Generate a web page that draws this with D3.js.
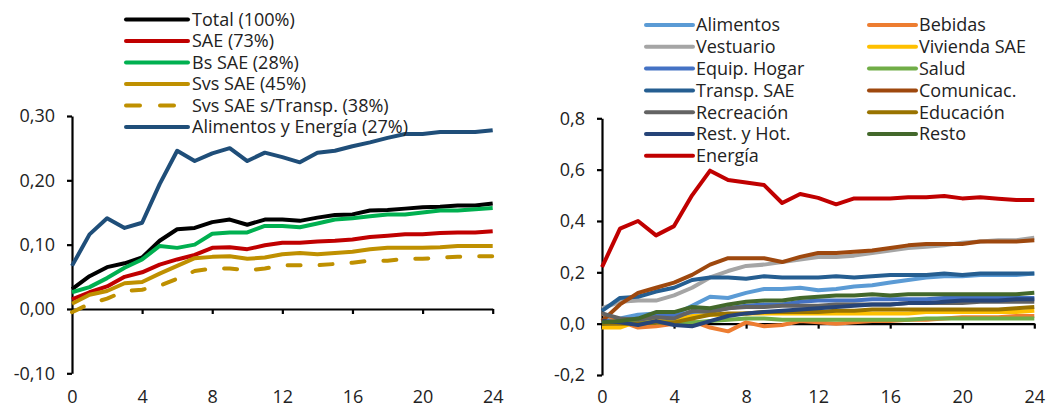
<!DOCTYPE html>
<html><head><meta charset="utf-8">
<script src="https://cdn.jsdelivr.net/npm/d3@7"></script>
<style>
body{margin:0;background:#fff;}
svg text{font-family:"Open Sans",sans-serif;fill:#222;}
</style></head>
<body><svg id="c" width="1061" height="406"></svg>
<script>
const months = d3.range(0,25);
const xTicks = [0,4,8,12,16,20,24];
const leftYTicks = [-0.1,0,0.1,0.2,0.3];
const rightYTicks = [-0.2,0,0.2,0.4,0.6,0.8];

// Left chart series
const leftNames = ["Total (100%)","SAE (73%)","Bs SAE (28%)","Svs SAE (45%)","Svs SAE s/Transp. (38%)","Alimentos y Energía (27%)"];
const leftColors = ["#000000","#C00000","#00B050","#BF9000","#BF9000","#1F4E79"];
const leftDashed = [false,false,false,false,true,false];
const total = [0.031,0.051,0.065,0.071,0.080,0.106,0.124,0.126,0.135,0.139,0.131,0.139,0.139,0.137,0.142,0.146,0.147,0.153,0.154,0.156,0.158,0.159,0.161,0.161,0.164];
const sae = [0.015,0.026,0.035,0.050,0.057,0.069,0.077,0.084,0.095,0.096,0.093,0.099,0.103,0.103,0.105,0.106,0.108,0.112,0.114,0.116,0.116,0.118,0.119,0.119,0.121];
const bsSae = [0.026,0.034,0.048,0.064,0.077,0.098,0.095,0.100,0.117,0.119,0.119,0.129,0.129,0.127,0.133,0.139,0.141,0.144,0.147,0.147,0.150,0.153,0.153,0.155,0.157];
const svsSae = [0.008,0.022,0.028,0.040,0.042,0.055,0.067,0.079,0.081,0.082,0.078,0.080,0.085,0.087,0.085,0.087,0.089,0.093,0.095,0.095,0.095,0.096,0.098,0.098,0.098];
const svsSaeSinTransp = [-0.005,0.008,0.016,0.028,0.030,0.036,0.047,0.059,0.063,0.063,0.060,0.063,0.068,0.068,0.068,0.070,0.072,0.075,0.075,0.078,0.078,0.080,0.081,0.082,0.082];
const alimEnergia = [0.067,0.116,0.141,0.126,0.134,0.194,0.246,0.230,0.242,0.250,0.230,0.243,0.236,0.228,0.243,0.246,0.253,0.259,0.266,0.272,0.272,0.275,0.275,0.275,0.278];
const leftValues = [total,sae,bsSae,svsSae,svsSaeSinTransp,alimEnergia];

// Right chart series
const rightNames = ["Alimentos","Bebidas","Vestuario","Vivienda SAE","Equip. Hogar","Salud","Transp. SAE","Comunicac.","Recreación","Educación","Rest. y Hot.","Resto","Energía"];
const rightColors = ["#5B9BD5","#ED7D31","#A5A5A5","#FFC000","#4472C4","#70AD47","#255E91","#9E480E","#636363","#997300","#264478","#43682B","#C00000"];
const alimentos = [0.010,0.020,0.035,0.040,0.035,0.070,0.105,0.100,0.120,0.135,0.135,0.140,0.130,0.135,0.145,0.150,0.160,0.170,0.180,0.185,0.185,0.190,0.190,0.190,0.195];
const bebidas = [0.040,0.010,-0.015,-0.010,0.000,0.010,-0.015,-0.030,0.005,-0.010,-0.005,0.010,0.005,0.000,0.005,0.010,0.010,0.015,0.015,0.020,0.025,0.025,0.025,0.030,0.030];
const vestuario = [0.060,0.085,0.090,0.090,0.110,0.140,0.180,0.205,0.225,0.230,0.240,0.250,0.260,0.260,0.265,0.275,0.285,0.295,0.300,0.305,0.315,0.320,0.325,0.325,0.335];
const vivienda = [-0.015,-0.015,0.010,0.015,0.020,0.030,0.035,0.035,0.040,0.040,0.040,0.040,0.040,0.040,0.040,0.040,0.040,0.040,0.045,0.045,0.045,0.045,0.045,0.045,0.050];
const equipHogar = [0.000,0.010,0.020,0.030,0.030,0.045,0.050,0.060,0.070,0.075,0.075,0.085,0.090,0.090,0.090,0.095,0.095,0.095,0.095,0.100,0.100,0.100,0.100,0.100,0.100];
const salud = [0.000,0.005,0.005,0.005,0.005,0.005,0.010,0.015,0.020,0.020,0.015,0.015,0.015,0.015,0.015,0.015,0.015,0.015,0.020,0.020,0.020,0.020,0.020,0.020,0.020];
const transpSae = [0.050,0.100,0.105,0.125,0.140,0.170,0.180,0.180,0.175,0.185,0.180,0.180,0.180,0.185,0.180,0.185,0.190,0.190,0.190,0.195,0.190,0.195,0.195,0.195,0.195];
const comunicac = [0.010,0.075,0.120,0.140,0.160,0.190,0.230,0.255,0.255,0.255,0.240,0.260,0.275,0.275,0.280,0.285,0.295,0.305,0.310,0.310,0.310,0.320,0.320,0.320,0.325];
const recreacion = [0.040,0.020,0.015,0.025,0.020,0.050,0.045,0.060,0.065,0.065,0.070,0.070,0.070,0.075,0.075,0.075,0.075,0.080,0.080,0.080,0.080,0.085,0.085,0.085,0.085];
const educacion = [0.000,0.000,0.000,0.005,0.005,0.020,0.035,0.040,0.040,0.045,0.045,0.045,0.045,0.050,0.050,0.055,0.055,0.055,0.055,0.055,0.055,0.055,0.055,0.060,0.065];
const restHot = [0.010,0.005,-0.005,0.010,-0.005,-0.010,0.010,0.030,0.040,0.045,0.050,0.055,0.060,0.065,0.070,0.075,0.075,0.080,0.080,0.085,0.090,0.090,0.090,0.095,0.095];
const resto = [0.005,0.010,0.020,0.045,0.045,0.065,0.060,0.075,0.085,0.090,0.090,0.100,0.105,0.110,0.110,0.115,0.110,0.115,0.115,0.115,0.115,0.115,0.115,0.115,0.120];
const energia = [0.220,0.370,0.400,0.344,0.380,0.500,0.596,0.560,0.550,0.540,0.470,0.505,0.490,0.465,0.488,0.488,0.488,0.492,0.492,0.497,0.488,0.492,0.487,0.482,0.482];
const rightValues = [alimentos,bebidas,vestuario,vivienda,equipHogar,salud,transpSae,comunicac,recreacion,educacion,restHot,resto,energia];

const svg = d3.select("#c");
const FS = 18;

function panel(cfg){
  const x = d3.scaleLinear().domain([0,24]).range(cfg.xr);
  const y = d3.scaleLinear().domain(cfg.yd).range(cfg.yr);
  const g = svg.append("g");
  // y axis
  const ya = g.append("g").attr("transform",`translate(${cfg.xr[0]},0)`)
    .call(d3.axisLeft(y).tickValues(cfg.yTicks).tickSize(5).tickSizeOuter(0).tickPadding(12)
      .tickFormat(d=>d3.format(cfg.fmt)(d).replace(".",",").replace("−","-")));
  ya.select(".domain").attr("stroke","#000").attr("stroke-width",2.2);
  ya.selectAll(".tick line").attr("stroke","#000").attr("stroke-width",2.2);
  ya.selectAll("text").style("font-size",FS+"px").attr("fill","#222").style("font-family","'Open Sans',sans-serif");
  // x axis at zero
  const xa = g.append("g").attr("transform",`translate(0,${y(0)})`)
    .call(d3.axisBottom(x).tickValues(xTicks).tickSize(5).tickSizeOuter(0));
  xa.select(".domain").attr("stroke","#000").attr("stroke-width",2.2);
  xa.selectAll(".tick line").attr("stroke","#000").attr("stroke-width",2.2);
  xa.selectAll("text").attr("y",cfg.xLabelY - y(0)).attr("dy","0").style("font-size",FS+"px").attr("fill","#222").style("font-family","'Open Sans',sans-serif");
  // lines
  const line = d3.line().x((d,i)=>x(months[i])).y(d=>y(d));
  cfg.values.forEach((vals,k)=>{
    g.append("path").datum(vals).attr("d",line).attr("fill","none")
      .attr("stroke",cfg.colors[k]).attr("stroke-width",4)
      .attr("stroke-linejoin","round")
      .attr("stroke-linecap",cfg.dashed && cfg.dashed[k] ? "round":"butt")
      .attr("stroke-dasharray",cfg.dashed && cfg.dashed[k] ? "13,19":null);
  });
  // legend
  cfg.names.forEach((n,k)=>{
    const col = cfg.legendCols ? k % 2 : 0;
    const row = cfg.legendCols ? Math.floor(k/2) : k;
    const lx = cfg.legX[col], ly = cfg.legY0 + row*cfg.legDy;
    const lg = g.append("g");
    lg.append("line").attr("x1",lx).attr("x2",lx+cfg.legLen).attr("y1",ly).attr("y2",ly)
      .attr("stroke",cfg.colors[k]).attr("stroke-width",4).attr("stroke-linecap","round")
      .attr("stroke-dasharray",cfg.dashed && cfg.dashed[k] ? "14,20":null);
    lg.append("text").attr("x",lx+cfg.legLen+cfg.legGap).attr("y",ly).attr("dy","0.35em")
      .style("font-size",FS+"px").text(n);
  });
}

panel({xr:[72,492.7], yd:[-0.1,0.3], yr:[373.3,116], yTicks:leftYTicks, fmt:".2f", xLabelY:403,
  values:leftValues, colors:leftColors, dashed:leftDashed, names:leftNames,
  legX:[126], legY0:19.5, legDy:21.5, legLen:62, legGap:4});
panel({xr:[602,1034.3], yd:[-0.2,0.8], yr:[375,118.3], yTicks:rightYTicks, fmt:".1f", xLabelY:403,
  values:rightValues, colors:rightColors, names:rightNames, legendCols:2,
  legX:[646,869], legY0:25, legDy:21.8, legLen:47, legGap:3});
</script></body></html>
